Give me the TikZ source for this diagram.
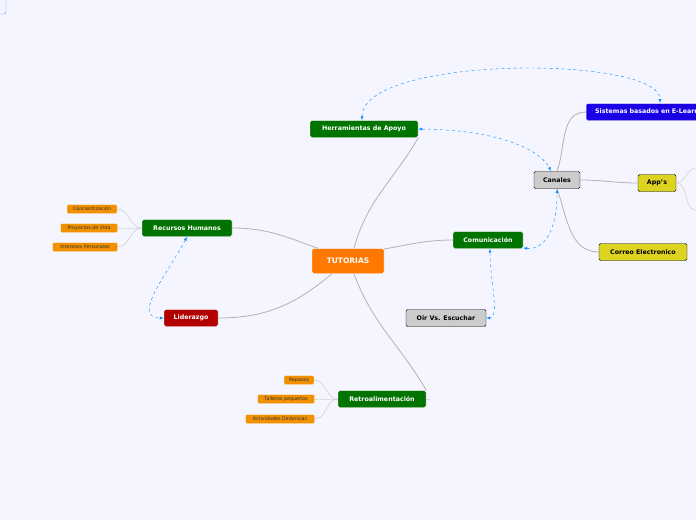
\documentclass[tikz,border=0pt]{standalone}
\usepackage{fontspec}
\setmainfont{DejaVu Sans}
\begin{document}
\begin{tikzpicture}[x=1pt,y=-1pt,
    topic/.style={draw=white,rounded corners=1.5pt,font=\bfseries\fontsize{6.3}{7}\selectfont,text=white,inner sep=0pt,minimum height=17pt},
    leaf/.style={draw=white,rounded corners=1pt,fill=orange!80!yellow!95!black,font=\fontsize{4.8}{5}\selectfont,text=black!80,inner sep=0pt,minimum height=9pt},
    dark/.style={topic,draw=black,text=black},
    branch/.style={draw=gray!60,line width=0.8pt},
    twig/.style={draw=gray!35,line width=0.6pt},
    link/.style={draw=blue!45!cyan,dashed,thin,latex-latex}]
    \fill[blue!4] (0,0) rectangle (696,520);
    \useasboundingbox (0,0) rectangle (696,520);
    \draw[blue!50,rounded corners=2pt] (-10,-5) rectangle (6,14);

    \node[topic,fill=orange!95!red,minimum width=72pt,minimum height=25pt,font=\bfseries\fontsize{7.5}{8}\selectfont] (tut) at (348,261) {TUTORIAS};
    \node[topic,fill=green!45!black,minimum width=108pt] (herr) at (364,129) {Herramientas de Apoyo};
    \node[topic,fill=green!45!black,minimum width=90pt] (rrhh) at (187,228) {Recursos Humanos};
    \node[topic,fill=red!70!black,minimum width=54pt] (lid) at (191,318) {Liderazgo};
    \node[topic,fill=green!45!black,minimum width=70pt] (com) at (488,240) {Comunicación};
    \node[dark,fill=gray!40,minimum width=80pt] (oir) at (446,318) {Oir Vs. Escuchar};
    \node[topic,fill=green!45!black,minimum width=88pt] (retro) at (382,399) {Retroalimentación};
    \node[dark,fill=gray!40,minimum width=46pt] (can) at (557,180) {Canales};
    \node[topic,fill=blue!80!violet,minimum width=130pt,anchor=west,text width=124pt] (sis) at (586,112) {\hspace*{6pt}Sistemas basados en E-Learning};
    \node[dark,fill=yellow!85!black,minimum width=38pt] (app) at (657,183) {App's};
    \node[dark,fill=yellow!85!black,minimum width=88pt] (mail) at (643,252) {Correo Electronico};

    \node[leaf,minimum width=50pt] (conc) at (92,209) {Concientización};
    \node[leaf,minimum width=57pt] (proy) at (89,228) {Proyectos de Vida};
    \node[leaf,minimum width=65pt] (inte) at (85,247) {Intereses Personales};
    \node[leaf,minimum width=30pt] (rep) at (299,380) {Repasos};
    \node[leaf,minimum width=57pt] (tall) at (286,399) {Talleres pequeños};
    \node[leaf,minimum width=69pt] (acti) at (280,419) {Actividades Dinámicas};

    % branches
    \draw[branch] (tut.north) ++(6,0) to[out=75,in=240] (herr.south east);
    \draw[branch] (tut.north west) ++(6,0) to[out=160,in=0] (rrhh.east);
    \draw[branch] (tut.south) ++(-16,0) to[out=220,in=0] (lid.east);
    \draw[branch] (tut.east) ++(0,-12) to[out=10,in=180] (com.west);
    \draw[branch] (tut.south) ++(6,0) to[out=290,in=120] (retro.north east);
    \draw[branch] (can.north) to[out=70,in=180] (sis.west);
    \draw[branch] (can.east) to[out=0,in=180] (app.west);
    \draw[branch] (can.south) to[out=290,in=180] (mail.west);
    \draw[twig] (retro.east) -- ++(4,0);
    \draw[twig] (app.east) to[out=0,in=180] (696,168);
    \draw[twig] (app.east) to[out=0,in=180] (696,210);
    \foreach \n in {conc,proy,inte} \draw[twig] (rrhh.west) to[out=180,in=0] (\n.east);
    \foreach \n in {rep,tall,acti} \draw[twig] (retro.west) to[out=180,in=0] (\n.east);

    % relations
    \draw[link] (herr.north) ++(-2,0) .. controls (362,55) and (660,55) .. (660,103);
    \draw[link] (herr.east) .. controls (500,130) and (540,150) .. (551,171);
    \draw[link] (com.east) ++(0,8) .. controls (545,250) and (557,230) .. (557,189);
    \draw[link] (com.south) ++(2,0) .. controls (490,280) and (500,318) .. (oir.east);
    \draw[link] (rrhh.south) .. controls (170,270) and (130,318) .. (lid.west);
\end{tikzpicture}
\end{document}
